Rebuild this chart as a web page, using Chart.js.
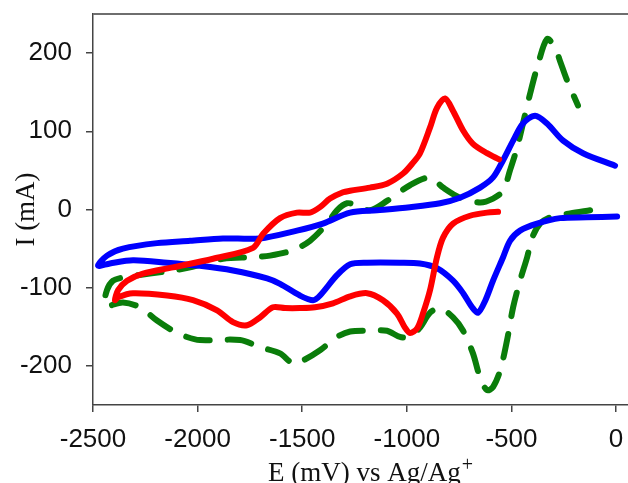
<!DOCTYPE html>
<html>
<head>
<meta charset="utf-8">
<script src="https://cdn.jsdelivr.net/npm/chart.js@4.4.1/dist/chart.umd.min.js"></script>
<style>
  html, body { margin: 0; padding: 0; background: #fff; overflow: hidden; }
  #wrap { position: relative; width: 628px; height: 492px; }
</style>
</head>
<body>
<div id="wrap"><canvas id="c"></canvas></div>
<script>
// ---- data (E in mV vs Ag/Ag+, I in mA) ----
const redE = [-564, -617, -698, -779, -827, -856, -889, -923, -951, -985, -1009, -1047, -1114, -1190, -1271, -1353, -1439, -1511, -1582, -1640, -1702, -1764, -1831, -1907, -2022, -2146, -2309, -2380, -2395,
  -2380, -2337, -2261, -2118, -1926, -1735, -1687, -1606, -1525, -1463, -1415, -1367, -1305, -1271, -1176, -1095, -1018, -970, -937, -889, -856, -817, -779, -731, -684, -617, -559];
const redI = [-3, -4, -8, -18, -36, -61, -103, -133, -152, -158, -151, -133, -116, -107, -111, -120, -125, -126, -126, -125, -138, -148, -144, -129, -116, -110, -107, -112, -116,
  -103, -91, -82, -74, -63, -49, -31, -11, -4, -4, 3, 14, 22, 24, 28, 33, 46, 60, 72, 105, 130, 142, 126, 101, 84, 72, 64];

const blueE = [5, -139, -268, -378, -459, -507, -540, -588, -626, -660, -688, -731, -779, -856, -937, -1033, -1190, -1271, -1334, -1415, -1448, -1511, -1606, -1668, -1831, -1989, -2146, -2309, -2419, -2476,
  -2433, -2357, -2194, -2036, -1879, -1702, -1525, -1401, -1271, -1142, -985, -841, -746, -650, -588, -540, -492, -445, -387, -330, -253, -158, -5];
const blueI = [-9, -10, -11, -18, -27, -40, -61, -91, -117, -132, -125, -107, -91, -75, -69, -68, -68, -70, -84, -110, -116, -110, -95, -88, -78, -72, -68, -65, -69, -72,
  -59, -50, -43, -40, -37, -37, -27, -18, -4, -1, 3, 8, 15, 28, 41, 63, 88, 110, 120, 110, 88, 72, 56];

const greenE = [-124, -220, -315, -363, -401, -425, -459, -492, -521, -554, -588, -617, -650, -684, -731, -779, -841, -889, -937, -985, -1033, -1095, -1190, -1271, -1334, -1415, -1496, -1544, -1606, -1702, -1797, -1989, -2051, -2118, -2194, -2275, -2357, -2443,
  -2433, -2404, -2357, -2228, -2118, -2036, -1879, -1735, -1654, -1544, -1463, -1381, -1334, -1286, -1238, -1176, -1095, -985, -889, -827, -746, -650, -588, -540, -507, -473, -445, -411, -378, -330, -292, -268, -234, -182];
const greenI = [-1, -5, -10, -18, -36, -61, -91, -125, -167, -206, -227, -231, -215, -184, -155, -138, -126, -132, -151, -163, -163, -155, -155, -156, -163, -180, -193, -197, -184, -176, -167, -167, -163, -155, -142, -125, -119, -123,
  -103, -91, -87, -82, -78, -74, -63, -61, -59, -52, -40, -18, -1, 8, 5, -1, 11, 31, 41, 28, 15, 9, 14, 24, 50, 79, 110, 148, 181, 218, 207, 190, 165, 133];

const xTicks = [-2500, -2000, -1500, -1000, -500, 0];
const yTicks = [-200, -100, 0, 100, 200];
const xTitle = 'E (mV) vs Ag/Ag';
const xTitleSup = '+';
const yTitle = 'I (mA)';

const pts = (xs, ys) => xs.map((x, i) => ({ x: x, y: ys[i] }));

const frame = {
  id: 'frame',
  afterDraw(chart) {
    const a = chart.chartArea, ctx = chart.ctx;
    ctx.save();
    ctx.strokeStyle = '#6e6e6e';
    ctx.lineWidth = 2;
    ctx.beginPath();
    ctx.moveTo(a.left, a.top);
    ctx.lineTo(a.right, a.top);
    ctx.stroke();
    // x axis title with superscript
    ctx.fillStyle = '#111';
    ctx.textBaseline = 'alphabetic';
    ctx.textAlign = 'left';
    ctx.font = '27px "Liberation Serif"';
    const w1 = ctx.measureText(xTitle).width;
    ctx.font = '20px "Liberation Serif"';
    const w2 = ctx.measureText(xTitleSup).width;
    const x0 = 370 - (w1 + w2) / 2;
    const base = 481;
    ctx.font = '27px "Liberation Serif"';
    ctx.fillText(xTitle, x0, base);
    ctx.font = '20px "Liberation Serif"';
    ctx.fillText(xTitleSup, x0 + w1 + 1, base - 10);
    ctx.restore();
  }
};

new Chart(document.getElementById('c'), {
  type: 'scatter',
  data: {
    datasets: [
      { label: 'red', data: pts(redE, redI), borderColor: '#ff0000', borderWidth: 6, showLine: true, tension: 0.3, pointRadius: 0, fill: false, borderCapStyle: 'round', borderJoinStyle: 'round' },
      { label: 'blue', data: pts(blueE, blueI), borderColor: '#0000ff', borderWidth: 6, showLine: true, tension: 0.3, pointRadius: 0, fill: false, borderCapStyle: 'round', borderJoinStyle: 'round' },
      { label: 'green', data: pts(greenE, greenI), borderColor: '#0a7d0a', borderWidth: 6, showLine: true, tension: 0.3, pointRadius: 0, fill: false, borderDash: [24, 18], borderCapStyle: 'round', borderJoinStyle: 'round' }
    ]
  },
  options: {
    responsive: true,
    maintainAspectRatio: false,
    animation: false,
    devicePixelRatio: 1,
    layout: { padding: { top: 14, right: 0, left: 0, bottom: 0 } },
    plugins: { legend: { display: false }, tooltip: { enabled: false } },
    scales: {
      x: {
        type: 'linear', min: -2500, max: 57,
        afterBuildTicks: s => { s.ticks = xTicks.map(v => ({ value: v })); },
        afterFit: s => { s.height = 87; s.paddingLeft = 0; s.paddingRight = 0; },
        border: { display: true, color: '#444', width: 1.5 },
        grid: { drawOnChartArea: false, drawTicks: true, tickLength: 7, color: '#444', lineWidth: 1.5 },
        ticks: { color: '#111', font: { family: 'Liberation Sans', size: 26 }, padding: 12, maxRotation: 0, callback: v => String(v) },
        title: { display: false, text: xTitle + xTitleSup }
      },
      y: {
        type: 'linear', min: -250, max: 250,
        afterBuildTicks: s => { s.ticks = yTicks.map(v => ({ value: v })); },
        afterFit: s => { s.width = 93; s.paddingTop = 0; s.paddingBottom = 0; },
        border: { display: true, color: '#444', width: 1.5 },
        grid: { drawOnChartArea: false, drawTicks: true, tickLength: 7, color: '#444', lineWidth: 1.5 },
        ticks: { color: '#111', font: { family: 'Liberation Sans', size: 26 }, padding: 14, callback: v => String(v) },
        title: { display: true, text: yTitle, color: '#111', font: { family: 'Liberation Serif', size: 27 }, padding: { top: 11, bottom: 0 } }
      }
    }
  },
  plugins: [frame]
});
</script>
</body>
</html>
